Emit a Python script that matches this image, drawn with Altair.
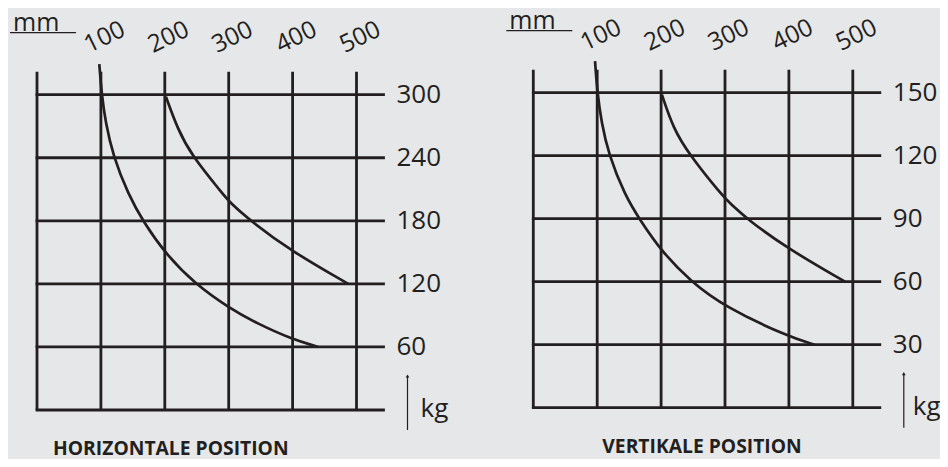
import altair as alt
import pandas as pd

# ---------------- data ----------------
grid_mm = [0, 100, 200, 300, 400, 500]
top_labels = [100, 200, 300, 400, 500]

h_grid_kg = [0, 60, 120, 180, 240, 300]
h_label_kg = [60, 120, 180, 240, 300]
v_grid_kg = [0, 30, 60, 90, 120, 150]
v_label_kg = [30, 60, 90, 120, 150]

# horizontal position curves (mm, kg)
h_a_mm = [97.5, 101.3, 107.2, 118.9, 142.9, 166.4, 201.9, 247.3, 300.9, 343.8, 398.6, 440]
h_a_kg = [329, 300, 274, 242, 205, 179, 148, 120, 97, 82.5, 67.5, 60]
h_b_mm = [201.8, 219.6, 242, 291.6, 300.9, 336, 398.6, 487]
h_b_kg = [298, 268, 242, 205, 198, 179, 151, 120]

# vertical position curves (mm, kg)
v_a_mm = [96.6, 100.2, 106.7, 117.4, 143.5, 167, 201, 246.8, 300, 397.5, 440]
v_a_kg = [165, 150, 136, 121, 101, 89.4, 74.3, 60, 48, 34, 30]
v_b_mm = [201.3, 219, 243.7, 294.8, 310.5, 336.5, 397.5, 487.8]
v_b_kg = [149, 133, 120.7, 101.3, 96.5, 89.4, 75.9, 60]

titles = ["HORIZONTALE POSITION", "VERTIKALE POSITION"]

# ---------------- style ----------------
INK = "#231f20"
BG = "#e6e7e8"
FONT = "Open Sans"
W, H = 932, 451


def panel(grid_kg, label_kg, curves, title, x_range, y_range, title_dx, kg_dx):
    xs = alt.Scale(domain=[grid_mm[0], grid_mm[-1]], range=x_range, nice=False, zero=False)
    ys = alt.Scale(domain=[grid_kg[0], grid_kg[-1]], range=y_range, nice=False, zero=False)

    def X(f):
        return alt.X(f, type="quantitative", scale=xs, axis=None)

    def Y(f):
        return alt.Y(f, type="quantitative", scale=ys, axis=None)

    x0, x1 = grid_mm[0], grid_mm[-1]
    y0, y1 = grid_kg[0], grid_kg[-1]

    hdf = pd.DataFrame({"kg": grid_kg, "a": x0, "b": x1})
    hlines = alt.Chart(hdf).mark_rule(
        color=INK, strokeWidth=2.8, strokeCap="square", x2Offset=27
    ).encode(x=X("a"), x2="b", y=Y("kg"))

    vdf = pd.DataFrame({"mm": grid_mm, "a": y0, "b": y1})
    vlines = alt.Chart(vdf).mark_rule(
        color=INK, strokeWidth=2.8, y2Offset=-23
    ).encode(x=X("mm"), y=Y("a"), y2="b")

    rows = []
    for s, (mm, kg) in enumerate(curves):
        for i, (m, k) in enumerate(zip(mm, kg)):
            rows.append({"s": s, "i": i, "mm": m, "kg": k})
    cdf = pd.DataFrame(rows)
    lines = alt.Chart(cdf).mark_line(
        color=INK, strokeWidth=2.7, interpolate="basis"
    ).encode(x=X("mm"), y=Y("kg"), detail="s:N", order="i:Q")

    rdf = pd.DataFrame({"kg": label_kg, "mm": x1, "t": [str(v) for v in label_kg]})
    rlabels = alt.Chart(rdf).mark_text(
        align="left", baseline="middle", dx=40, font=FONT, fontSize=26, color=INK
    ).encode(x=X("mm"), y=Y("kg"), text="t:N")

    tdf = pd.DataFrame({"mm": top_labels, "kg": y1, "t": [str(v) for v in top_labels]})
    tlabels = alt.Chart(tdf).mark_text(
        align="center", baseline="middle", angle=334, xOffset=4, yOffset=-57,
        font=FONT, fontSize=24.5, color=INK
    ).encode(x=X("mm"), y=Y("kg"), text="t:N")

    mdf = pd.DataFrame({"mm": [x0], "kg": [y1], "t": ["mm"]})
    mm_text = alt.Chart(mdf).mark_text(
        align="left", baseline="alphabetic", xOffset=-24, yOffset=-64,
        font=FONT, fontSize=25, color=INK
    ).encode(x=X("mm"), y=Y("kg"), text="t:N")
    mm_rule = alt.Chart(mdf).mark_rule(
        color=INK, strokeWidth=1.3, xOffset=-27, x2Offset=39, yOffset=-62
    ).encode(x=X("mm"), x2="mm", y=Y("kg"))

    adf = pd.DataFrame({"mm": [x1], "kg": [y0], "t": ["kg"]})
    arrow = alt.Chart(adf).mark_rule(
        color=INK, strokeWidth=1.2, xOffset=51, yOffset=20, y2Offset=-33
    ).encode(x=X("mm"), y=Y("kg"), y2="kg")
    head = alt.Chart(adf).mark_point(
        shape="triangle-up", filled=True, size=14, color=INK, opacity=1,
        xOffset=51, yOffset=-34
    ).encode(x=X("mm"), y=Y("kg"))
    kg_text = alt.Chart(adf).mark_text(
        align="left", baseline="alphabetic", xOffset=kg_dx, yOffset=7,
        font=FONT, fontSize=26, color=INK
    ).encode(x=X("mm"), y=Y("kg"), text="t:N")

    ttl = pd.DataFrame({"mm": [x0], "kg": [y0], "t": [title]})
    title_text = alt.Chart(ttl).mark_text(
        align="left", baseline="middle", xOffset=title_dx, yOffset=39,
        font=FONT, fontSize=19.3, fontWeight="bold", color=INK
    ).encode(x=X("mm"), y=Y("kg"), text="t:N")

    return alt.layer(hlines, vlines, lines, rlabels, tlabels, mm_text, mm_rule,
                     arrow, head, kg_text, title_text)


left = panel(h_grid_kg, h_label_kg, [(h_a_mm, h_a_kg), (h_b_mm, h_b_kg)],
             titles[0], [29, 348.5], [402, 86.7], 16, 64)
right = panel(v_grid_kg, v_label_kg, [(v_a_mm, v_a_kg), (v_b_mm, v_b_kg)],
              titles[1], [525.3, 844.8], [399.7, 84.7], 69, 60)

chart = alt.layer(left, right).resolve_scale(
    x="independent", y="independent"
).properties(
    width=W, height=H, padding=0, autosize="none", background=BG
).configure_view(stroke=None)

chart.save("out.html", embed_options={"renderer": "svg", "actions": False})
